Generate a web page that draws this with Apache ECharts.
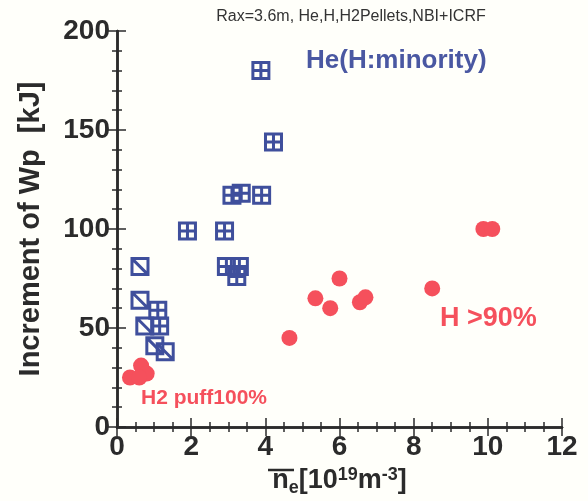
<!DOCTYPE html>
<html>
<head>
<meta charset="utf-8">
<script src="https://cdn.jsdelivr.net/npm/echarts@6/dist/echarts.min.js"></script>
<style>
  html, body { margin: 0; padding: 0; background: #fffffa; }
  #chart { width: 588px; height: 501px; }
</style>
</head>
<body>
<div id="chart"></div>
<script>
// He (H minority), square with cross
var heCrossX = [3.88, 4.22, 1.9, 2.9, 3.1, 3.35, 3.9, 2.95, 3.3, 3.23, 1.1, 1.15];
var heCrossY = [180, 144, 99, 99, 117, 118, 117, 81, 81, 76, 59, 51];
// He (H minority), square with diagonal
var heDiagX = [0.62, 0.62, 0.75, 1.02, 1.3];
var heDiagY = [81, 64, 51, 41, 38];
// H > 90%
var hHighX = [4.65, 5.35, 5.75, 6.0, 6.55, 6.7, 8.5, 9.88, 10.12];
var hHighY = [45, 65, 60, 75, 63, 65.5, 70, 100, 100];
// H2 puff 100%
var h2PuffX = [0.35, 0.65, 0.8, 0.6];
var h2PuffY = [25, 31, 27, 25];

var xTicks = [0, 2, 4, 6, 8, 10, 12];
var yTicks = [0, 50, 100, 150, 200];

function pairs(xs, ys) {
  return xs.map(function (x, i) { return [x, ys[i]]; });
}

var blue = '#3f4f9c';
var red = '#f5505c';
var ink = '#2b2b2b';
var font = 'Liberation Sans, Arial, sans-serif';

var crossPath = 'path://M0,0L10,0L10,10L0,10ZM5,0L5,10M0,5L10,5';
var diagPath = 'path://M0,0L10,0L10,10L0,10ZM0,0L10,10';

var chart = echarts.init(document.getElementById('chart'));

chart.setOption({
  backgroundColor: '#fffffa',
  animation: false,
  textStyle: { fontFamily: font },
  title: {
    text: 'Rax=3.6m, He,H,H2Pellets,NBI+ICRF',
    left: 346, top: 4, textAlign: 'center',
    textStyle: { fontSize: 16, fontWeight: 'normal', color: '#333', fontFamily: font }
  },
  grid: { left: 117, right: 26, top: 31, bottom: 74, outerBoundsMode: 'none' },
  xAxis: [{
    type: 'value', min: xTicks[0], max: xTicks[xTicks.length - 1], interval: 2,
    axisLine: { show: true, lineStyle: { color: ink, width: 2.5 } },
    axisTick: { show: true, inside: true, length: 9, lineStyle: { color: ink, width: 1.5 } },
    minorTick: { show: true, splitNumber: 4, length: 5, lineStyle: { color: ink, width: 1.5 } },
    splitLine: { show: false },
    axisLabel: { fontSize: 28, fontWeight: 'bold', color: ink, margin: 6 },
    name: '{n|n}{e|e}{b|[10}{s|19}{b|m}{s|-3}{b|]}',
    nameLocation: 'middle', nameGap: 36,
    nameTextStyle: {
      rich: {
        n: { fontSize: 27, fontWeight: 'bold', color: ink },
        e: { fontSize: 18, fontWeight: 'bold', color: ink, padding: [14, 0, 0, 0] },
        b: { fontSize: 27, fontWeight: 'bold', color: ink },
        s: { fontSize: 18, fontWeight: 'bold', color: ink, padding: [0, 0, 12, 0] }
      }
    }
  }, {
    type: 'value', position: 'top', min: 0, max: 12, interval: 2,
    axisLine: { show: true, lineStyle: { color: ink, width: 2.5 } },
    axisTick: { show: true, inside: true, length: 9, lineStyle: { color: ink, width: 1.5 } },
    minorTick: { show: true, splitNumber: 4, length: 5, lineStyle: { color: ink, width: 1.5 } },
    splitLine: { show: false },
    axisLabel: { show: false }
  }],
  yAxis: [{
    type: 'value', min: yTicks[0], max: yTicks[yTicks.length - 1], interval: 50,
    axisLine: { show: true, lineStyle: { color: ink, width: 2.5 } },
    axisTick: { show: true, inside: true, length: 9, lineStyle: { color: ink, width: 1.5 } },
    minorTick: { show: true, splitNumber: 5, length: 5, lineStyle: { color: ink, width: 1.5 } },
    splitLine: { show: false },
    axisLabel: { fontSize: 28, fontWeight: 'bold', color: ink, margin: 7 },
    name: 'Increment of Wp  [kJ]',
    nameLocation: 'middle', nameGap: 72,
    nameTextStyle: { fontSize: 29, fontWeight: 'bold', color: ink }
  }, {
    type: 'value', position: 'right', min: 0, max: 200, interval: 50,
    axisLine: { show: true, lineStyle: { color: ink, width: 2.5 } },
    axisTick: { show: true, inside: true, length: 9, lineStyle: { color: ink, width: 1.5 } },
    minorTick: { show: true, splitNumber: 5, length: 5, lineStyle: { color: ink, width: 1.5 } },
    splitLine: { show: false },
    axisLabel: { show: false }
  }],
  graphic: [
    { type: 'line', shape: { x1: 268, y1: 470, x2: 294, y2: 470 }, style: { stroke: ink, lineWidth: 2.5 } },
    { type: 'text', left: 306, top: 48, style: { text: 'He(H:minority)', fill: '#4a58a2', font: 'bold 26px ' + font } },
    { type: 'text', left: 440, top: 305, style: { text: 'H >90%', fill: red, font: 'bold 27px ' + font } },
    { type: 'text', left: 141, top: 388, style: { text: 'H2 puff100%', fill: red, font: 'bold 21px ' + font } }
  ],
  series: [{
    type: 'scatter', data: pairs(hHighX, hHighY),
    symbol: 'circle', symbolSize: 16,
    itemStyle: { color: red, opacity: 1 }
  }, {
    type: 'scatter', data: pairs(h2PuffX, h2PuffY),
    symbol: 'circle', symbolSize: 16,
    itemStyle: { color: red, opacity: 1 }
  }, {
    type: 'scatter', data: pairs(heCrossX, heCrossY),
    symbol: crossPath, symbolSize: 16,
    itemStyle: { color: 'rgba(0,0,0,0)', borderColor: blue, borderWidth: 3, opacity: 1 }
  }, {
    type: 'scatter', data: pairs(heDiagX, heDiagY),
    symbol: diagPath, symbolSize: 16,
    itemStyle: { color: 'rgba(0,0,0,0)', borderColor: blue, borderWidth: 3, opacity: 1 }
  }]
});
</script>
</body>
</html>
